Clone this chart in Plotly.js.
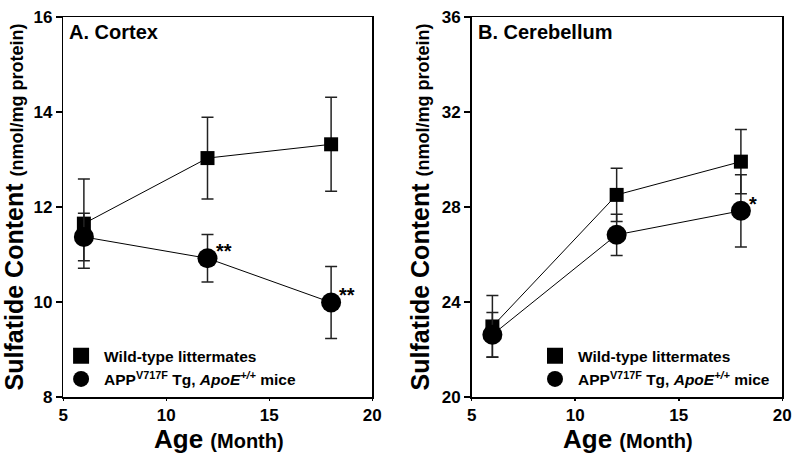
<!DOCTYPE html>
<html>
<head>
<meta charset="utf-8">
<script src="https://cdn.plot.ly/plotly-3.0.1.min.js"></script>
<style>
  html, body { margin: 0; padding: 0; background: #fff; }
  #chart { width: 800px; height: 455px; }
</style>
</head>
<body>
<div id="chart"></div>
<script>
// age of mice (months)
var ages = [6, 12, 18];

// A. Cortex
var cortexWT = [11.65, 13.03, 13.32];
var cortexWTErr = [0.94, 0.86, 0.99];
var cortexAPP = [11.37, 10.92, 9.99];
var cortexAPPErr = [0.5, 0.5, 0.76];
var cortexStars = ["", "**", "**"];

// B. Cerebellum
var cereWT = [22.97, 28.51, 29.91];
var cereWTErr = [1.3, 1.12, 1.35];
var cereAPP = [22.62, 26.83, 27.84];
var cereAPPErr = [0.94, 0.87, 1.52];
var cereStars = ["", "", "*"];

var wtName = "Wild-type littermates";
var appName = "APP<sup>V717F</sup> Tg, <i>ApoE<sup>+/+</sup></i> mice";
var xTitle = 'Age <span style="font-size:20px">(Month)</span>';
var yTitle = 'Sulfatide Content <span style="font-size:18px">(nmol/mg protein)</span>';

var FONT = "Liberation Sans, Arial, Helvetica, sans-serif";

function series(y, err, name, symbol, size, xa, ya) {
  return {
    x: ages,
    y: y,
    name: name,
    type: "scatter",
    mode: "lines+markers",
    xaxis: xa,
    yaxis: ya,
    showlegend: false,
    line: { color: "#000", width: 1 },
    marker: { symbol: symbol, size: size, color: "#000" },
    error_y: { type: "data", array: err, visible: true, color: "#222", thickness: 1.5, width: 6 },
    cliponaxis: false,
  };
}

// marker-only legend entries (no line through the symbol, as in the figure)
function legendOnly(name, symbol, size, xa, ya, leg) {
  return {
    x: [null], y: [null], name: name, type: "scatter", mode: "markers",
    xaxis: xa, yaxis: ya, legend: leg, showlegend: true,
    marker: { symbol: symbol, size: size, color: "#000" },
  };
}

var data = [
  series(cortexWT, cortexWTErr, wtName, "square", 14, "x", "y"),
  series(cortexAPP, cortexAPPErr, appName, "circle", 20, "x", "y"),
  series(cereWT, cereWTErr, wtName, "square", 14, "x2", "y2"),
  series(cereAPP, cereAPPErr, appName, "circle", 20, "x2", "y2"),
  legendOnly(wtName, "square", 16, "x", "y", "legend"),
  legendOnly(appName, "circle", 20, "x", "y", "legend"),
  legendOnly(wtName, "square", 16, "x2", "y2", "legend2"),
  legendOnly(appName, "circle", 20, "x2", "y2", "legend2"),
];

function starNotes(stars, vals, xref, yref) {
  var out = [];
  for (var i = 0; i < stars.length; i++) {
    if (!stars[i]) continue;
    out.push({
      x: ages[i], y: vals[i], xref: xref, yref: yref,
      text: stars[i], showarrow: false,
      xanchor: "left", yanchor: "middle", xshift: 6, yshift: 7,
      font: { family: FONT, size: 20, weight: "bold", color: "#000" },
    });
  }
  return out;
}

function xAxis(dom) {
  return {
    domain: dom, range: [5, 20], tick0: 5, dtick: 5,
    ticks: "outside", ticklen: 2, tickwidth: 1.5, tickcolor: "#000",
    showline: true, mirror: true, linewidth: 1.5, linecolor: "#000",
    showgrid: false, zeroline: false,
    tickfont: { family: FONT, size: 17, weight: "bold", color: "#000" },
  };
}

function yAxis(rng, dt, anchor) {
  return {
    domain: [0, 1], range: rng, dtick: dt, anchor: anchor,
    ticks: "outside", ticklen: 6, tickwidth: 1.5, tickcolor: "#000",
    showline: true, mirror: true, linewidth: 1.5, linecolor: "#000",
    showgrid: false, zeroline: false,
    tickfont: { family: FONT, size: 17, weight: "bold", color: "#000" },
    title: {
      text: yTitle,
      font: { family: FONT, size: 25, weight: "bold", color: "#000" },
      standoff: 5,
    },
  };
}

function legendBox(x) {
  return {
    x: x, y: 0.152, xanchor: "left", yanchor: "top",
    bgcolor: "rgba(0,0,0,0)", borderwidth: 0, itemwidth: 36,
    font: { family: FONT, size: 15.5, weight: "bold", color: "#000" },
  };
}

function textNote(text, xref, yref, x, y, xa, ya, xs, ys, size) {
  return {
    text: text, xref: xref, yref: yref, x: x, y: y,
    xanchor: xa, yanchor: ya, xshift: xs, yshift: ys, showarrow: false,
    font: { family: FONT, size: size, weight: "bold", color: "#000" },
  };
}

var layout = {
  width: 800,
  height: 455,
  margin: { l: 0, r: 0, t: 17, b: 58 },
  paper_bgcolor: "#fff",
  plot_bgcolor: "#fff",
  font: { family: FONT, color: "#000" },
  showlegend: true,
  xaxis: xAxis([0.0791, 0.4654]),
  yaxis: yAxis([8, 16], 2, "x"),
  xaxis2: xAxis([0.5896, 0.9779]),
  yaxis2: yAxis([20, 36], 4, "x2"),
  legend: legendBox(0.0726),
  legend2: legendBox(0.665),
  annotations: [
    textNote("A. Cortex", "x domain", "y domain", 0, 1, "left", "top", 4, -2, 20),
    textNote("B. Cerebellum", "x2 domain", "y2 domain", 0, 1, "left", "top", 4, -2, 20),
    textNote(xTitle, "x domain", "y domain", 0.5, 0, "center", "top", 1, -25, 26),
    textNote(xTitle, "x2 domain", "y2 domain", 0.5, 0, "center", "top", 1, -25, 26),
  ]
    .concat(starNotes(cortexStars, cortexAPP, "x", "y"))
    .concat(starNotes(cereStars, cereAPP, "x2", "y2")),
};

Plotly.newPlot("chart", data, layout, { displayModeBar: false, staticPlot: true });
</script>
</body>
</html>
